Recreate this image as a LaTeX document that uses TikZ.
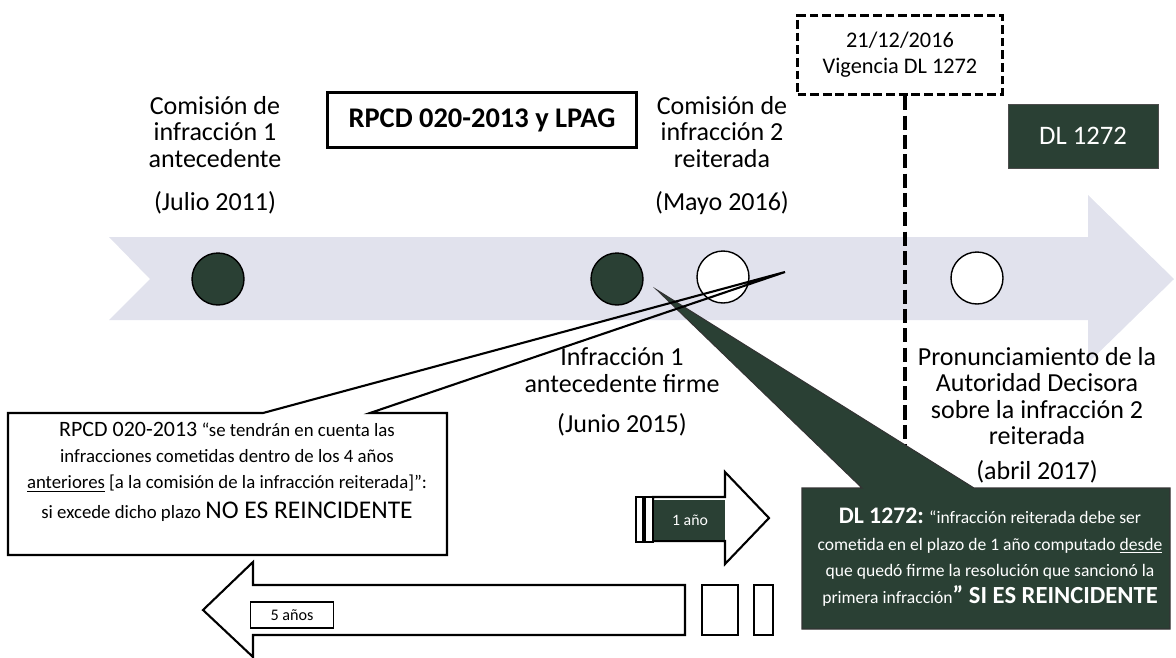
\documentclass[tikz,border=0pt]{standalone}
\usepackage{fontspec}
\setmainfont{Carlito}
\usetikzlibrary{positioning,calc}

\definecolor{dlgreen}{RGB}{42,64,52}
\definecolor{lineagray}{RGB}{225,226,237}

\begin{document}
\begin{tikzpicture}[x=0.02cm,y=-0.02cm,
    lab/.style={align=center,inner sep=0pt,font=\fontsize{14.8}{15}\selectfont},
    hito/.style={circle,inner sep=0pt,minimum size=1.04cm,draw=black,line width=0.8pt},
    outl/.style={draw=black,line width=1.2pt,line join=miter}]
  \useasboundingbox (0,0) rectangle (1176,657);
  % linea de tiempo
  \fill[lineagray] (109,237) -- (1088,237) -- (1088,195) -- (1174,279) -- (1088,363)
       -- (1088,320) -- (109,320) -- (150,279) -- cycle;
  \node[hito,fill=dlgreen] (h_1) at (218,279) {};
  \node[hito,fill=dlgreen] (h_2) at (617,279) {};
  \node[hito,fill=white] (h_3) at (723,277) {};
  \node[hito,fill=white] (h_4) at (977,278) {};

  \node[lab] (lab_1) at (215,132) {Comisión de\\infracción 1\\antecedente};
  \node[lab] (fecha_1) at (215,203) {(Julio 2011)};
  \node[lab] (lab_2) at (722,132) {Comisión de\\infracción 2\\reiterada};
  \node[lab] (fecha_2) at (722,203) {(Mayo 2016)};
  \node[lab] (lab_3) at (622,370) {Infracción 1\\antecedente firme};
  \node[lab] (fecha_3) at (622,425) {(Junio 2015)};
  \node[lab] (lab_4) at (1037,396) {Pronunciamiento de la\\Autoridad Decisora\\sobre la infracción 2\\reiterada};
  \node[lab] (fecha_4) at (1037,472) {(abril 2017)};

  \node[draw,line width=1.6pt,minimum width=6.18cm,minimum height=1.1cm,
        font=\fontsize{16.2}{18}\selectfont\bfseries] (rpcd) at (482,120) {RPCD 020-2013 y LPAG};
  \node[fill=dlgreen,draw=black!70,minimum width=3cm,minimum height=1.28cm,text=white,
        font=\fontsize{15.2}{17}\selectfont] (dl) at (1083,136) {DL 1272};

  % vigencia
  \node[draw,line width=2pt,dash pattern=on 5pt off 2.2pt,minimum width=4.1cm,minimum height=1.58cm,
        align=center,font=\fontsize{12.7}{14.8}\selectfont] (vig) at (900,55) {21/12/2016\\Vigencia DL 1272};
  \coordinate (vfin) at (905,600);
  \draw[line width=2.2pt,dash pattern=on 8pt off 3pt] (vig.south -| vfin) -- (vfin);

  % llamada DL 1272
  \filldraw[fill=dlgreen,draw=black!80,line width=0.6pt] (802,488) -- (862,488) -- (657,290) -- (974,488)
       -- (1170,488) -- (1170,629) -- (802,629) -- cycle;
  \node[align=center,text=white,font=\fontsize{10}{15.2}\selectfont] (dltxt) at (990,557)
    {{\fontsize{13.5}{15.2}\selectfont\bfseries DL 1272:} “infracción reiterada debe ser\\
     cometida en el plazo de 1 año computado \underline{desde}\\
     que quedó firme la resolución que sancionó la\\
     primera infracción{\fontsize{14}{15.2}\selectfont\bfseries” SI ES REINCIDENTE}};

  % llamada RPCD
  \draw[outl] (8,413) -- (263,413) -- (785,272) -- (370,413) -- (447,413) -- (447,555) -- (8,555) -- cycle;
  \node[align=center,font=\fontsize{10.7}{14.8}\selectfont] (rpcdtxt) at (227,472)
    {{\fontsize{12.5}{14.8}\selectfont RPCD 020-2013} “se tendrán en cuenta las\\
     infracciones cometidas dentro de los 4 años\\
     \underline{anteriores} [a la comisión de la infracción reiterada]":\\[2.5pt]
     si excede dicho plazo {\fontsize{14.5}{14.8}\selectfont NO ES REINCIDENTE}};

  % 1 anno
  \draw[outl,fill=white] (653,497) -- (725,497) -- (725,472) -- (769,518) -- (725,564)
       -- (725,541) -- (653,541) -- cycle;
  \fill[dlgreen] (654,500) rectangle (725,540);
  \draw[outl,fill=white] (636,497) rectangle (643,542);
  \draw[outl,fill=white] (645,497) rectangle (653,542);
  \node[text=white,font=\fontsize{9}{10}\selectfont] (uno) at (690,520) {1 año};

  % 5 annos
  \draw[outl,fill=white] (253,562) -- (203,610) -- (253,657) -- (253,635) -- (685,635)
       -- (685,585) -- (253,585) -- cycle;
  \draw[outl] (702,585) rectangle (738,635);
  \draw[outl] (754,585) rectangle (773,635);
  \node[draw,line width=1pt,minimum width=1.66cm,minimum height=0.52cm,
        font=\fontsize{9.2}{10}\selectfont] (cinco) at (292,615) {5 años};
\end{tikzpicture}
\end{document}
